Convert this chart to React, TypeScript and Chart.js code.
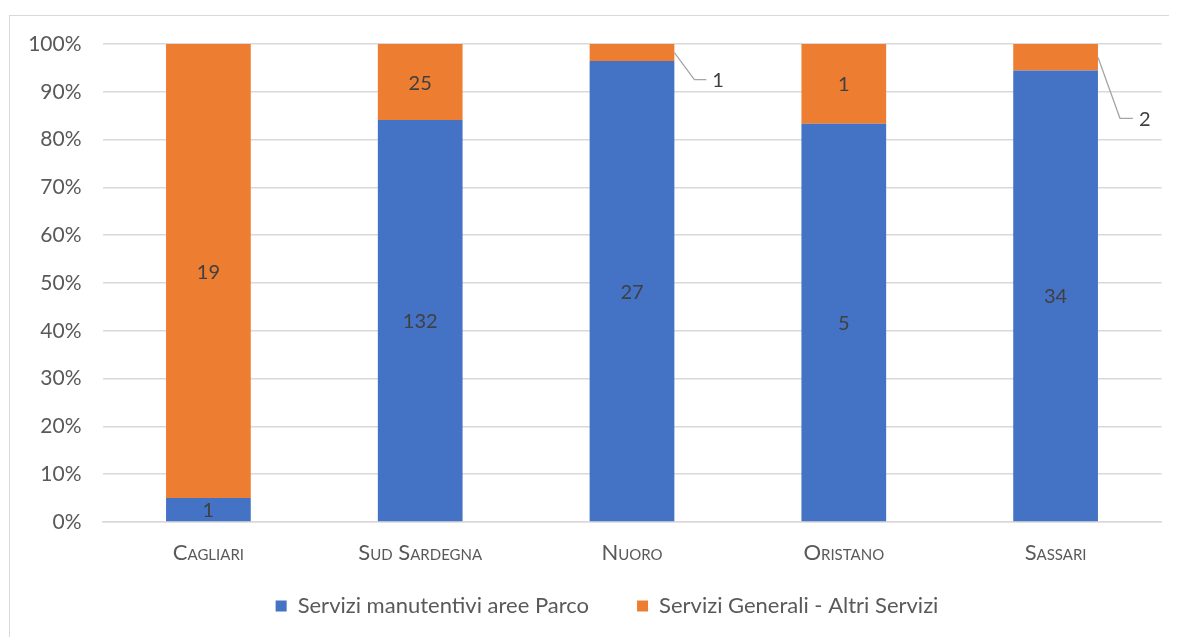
import React, { useEffect, useRef } from "react";
import { Chart, registerables } from "chart.js";

Chart.register(...registerables);

const categories = ["Cagliari", "Sud Sardegna", "Nuoro", "Oristano", "Sassari"];
const manutentivi = [1, 132, 27, 5, 34];
const generali = [19, 25, 1, 1, 2];
const seriesNames = ["Servizi manutentivi aree Parco", "Servizi Generali - Altri Servizi"];
const seriesColors = ["#4472C4", "#ED7D31"];

const FONT = 'Lato, "Noto Sans", sans-serif';

const totals = categories.map((_, i) => manutentivi[i] + generali[i]);
const pct = (arr: number[]) => arr.map((v, i) => (v / totals[i]) * 100);
const rawSeries = [manutentivi, generali];

// callout label placements (style only)
const callouts: Record<string, { dx: number; dy: number; h: number }> = {
  "1-2": { dx: 20, dy: 27, h: 12 },
  "1-4": { dx: 22, dy: 61, h: 13 },
};

const labelPlugin = {
  id: "segLabels",
  afterLayout(chart: any) {
    const lg = chart.legend;
    if (lg) {
      const sx = 599 - (lg.left + lg.right) / 2;
      lg.left += sx;
      lg.right += sx;
      const sy = 539 - lg.top;
      lg.top += sy;
      lg.bottom += sy;
    }
  },
  afterDatasetsDraw(chart: any) {
    const ctx = chart.ctx;
    ctx.save();
    ctx.font = `20px ${FONT}`;
    ctx.fillStyle = "#404040";
    ctx.textBaseline = "middle";
    chart.data.datasets.forEach((ds: any, d: number) => {
      const meta = chart.getDatasetMeta(d);
      meta.data.forEach((el: any, i: number) => {
        const val = rawSeries[d][i];
        const top = Math.min(el.y, el.base);
        const bot = Math.max(el.y, el.base);
        const cy = (top + bot) / 2;
        const key = `${d}-${i}`;
        const co = callouts[key];
        if (co) {
          const sx = el.x + el.width / 2;
          const ex = sx + co.dx;
          const ey = cy + co.dy;
          ctx.strokeStyle = "#A6A6A6";
          ctx.lineWidth = 1.3;
          ctx.beginPath();
          ctx.moveTo(sx, cy);
          ctx.lineTo(ex, ey);
          ctx.lineTo(ex + co.h, ey);
          ctx.stroke();
          ctx.textAlign = "left";
          ctx.fillText(String(val), ex + co.h + 6, ey + 1);
        } else {
          ctx.textAlign = "center";
          ctx.fillText(String(val), el.x, cy + 1);
        }
      });
    });
    ctx.restore();
  },
};

export default function App() {
  const ref = useRef<HTMLCanvasElement | null>(null);
  useEffect(() => {
    document.body.style.overflow = "hidden";
    if (!ref.current) return;
    const chart = new Chart(ref.current, {
      type: "bar",
      data: {
        labels: categories,
        datasets: rawSeries.map((s, d) => ({
          label: seriesNames[d],
          data: pct(s),
          backgroundColor: seriesColors[d],
          borderWidth: 0,
          categoryPercentage: 1,
          barPercentage: 0.4,
        })),
      },
      options: {
        responsive: false,
        animation: false,
        layout: { padding: { left: 8, right: 15.5, top: 36, bottom: -15 } },
        plugins: {
          tooltip: { enabled: false },
          legend: {
            position: "bottom",
            labels: {
              boxWidth: 11,
              boxHeight: 11,
              padding: 48,
              color: "#595959",
              font: { family: FONT, size: 22 },
            },
          },
        },
        scales: {
          x: {
            stacked: true,
            grid: { display: false, drawTicks: false },
            border: { display: true, color: "#D9D9D9", width: 1.5 },
            ticks: {
              padding: 18,
              color: "#595959",
              font: { family: FONT, size: 22, weight: "small-caps" as any },
            },
            afterFit(scale: any) {
              scale.height = 50;
            },
          },
          y: {
            stacked: true,
            min: 0,
            max: 100,
            grid: { color: "#D9D9D9", lineWidth: 1.5, drawTicks: false },
            border: { display: false },
            ticks: {
              stepSize: 10,
              padding: 21,
              color: "#595959",
              font: { family: FONT, size: 21 },
              callback: (v: any) => `${v}%`,
            },
            afterFit(scale: any) {
              scale.width = 86.5;
            },
          },
        },
      },
      plugins: [labelPlugin],
    });
    return () => chart.destroy();
  }, []);

  return (
    <div style={{ position: "relative", width: 1169, height: 629, overflow: "hidden" }}>
      <div
        style={{
          position: "absolute",
          left: 1,
          top: 7,
          width: 1300,
          height: 800,
          borderTop: "1px solid #D9D9D9",
          borderLeft: "1px solid #D9D9D9",
          boxSizing: "border-box",
        }}
      />
      <canvas
        ref={ref}
        width={1169}
        height={629}
        style={{ position: "absolute", left: 0, top: 0, width: 1169, height: 629 }}
      />
    </div>
  );
}
